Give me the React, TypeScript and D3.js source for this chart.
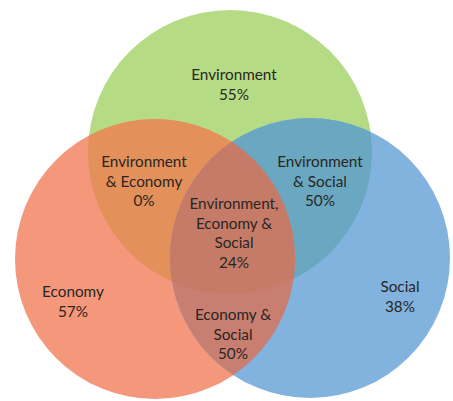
import React from "react";
import * as d3 from "d3";

// ---- data ----
const setNames = ["Environment", "Economy", "Social"];
const setValues = [55, 57, 38];
const pairLines = [
  ["Environment", "& Economy"],
  ["Environment", "& Social"],
  ["Economy &", "Social"],
];
const pairValues = [0, 50, 50];
const tripleLines = ["Environment,", "Economy &", "Social"];
const tripleValue = 24;

// ---- layout ----
const W = 453;
const H = 401;
const circles = [
  { cx: 230, cy: 152, r: 142 }, // Environment
  { cx: 155, cy: 259, r: 140 }, // Economy
  { cx: 310, cy: 258, r: 140 }, // Social
];
const setColors = ["#b5dc84", "#f4977b", "#81b3de"];
const pairColors = ["#e4905a", "#6aa7c1", "#c87e71"]; // E&Ec, E&S, Ec&S
const tripleColor = "#c67b69";

const setLabelPos = [
  { x: 234, y: 80 },
  { x: 73, y: 297 },
  { x: 400, y: 292 },
];
const pairLabelPos = [
  { x: 144, y: 167 },
  { x: 320, y: 167 },
  { x: 233, y: 320 },
];
const tripleLabelPos = { x: 234, y: 209 };
const lineH = 19.6;

const fmt = d3.format("d");

function Label({ x, y, lines, color }: { x: number; y: number; lines: string[]; color: string }) {
  return (
    <text
      x={x}
      y={y}
      textAnchor="middle"
      fontFamily="Lato, 'Open Sans', sans-serif"
      fontSize={15.3}
      fill={color}
    >
      {lines.map((l, i) => (
        <tspan key={i} x={x} y={y + i * lineH}>
          {l}
        </tspan>
      ))}
    </text>
  );
}

export default function App() {
  const pairs: [number, number][] = [
    [0, 1],
    [0, 2],
    [1, 2],
  ];
  return (
    <svg
      width={W}
      height={H}
      style={{ position: "absolute", left: 0, top: 0, background: "#fff" }}
    >
      <defs>
        {circles.map((c, i) => (
          <clipPath id={`clip${i}`} key={i}>
            <circle cx={c.cx} cy={c.cy} r={c.r} />
          </clipPath>
        ))}
        <clipPath id="clip01" clipPath="url(#clip0)">
          <circle cx={circles[1].cx} cy={circles[1].cy} r={circles[1].r} />
        </clipPath>
      </defs>
      {circles.map((c, i) => (
        <circle key={i} cx={c.cx} cy={c.cy} r={c.r} fill={setColors[i]} />
      ))}
      {pairs.map(([a, b], i) => (
        <g key={i} clipPath={`url(#clip${a})`}>
          <circle cx={circles[b].cx} cy={circles[b].cy} r={circles[b].r} fill={pairColors[i]} />
        </g>
      ))}
      <g clipPath="url(#clip01)">
        <circle cx={circles[2].cx} cy={circles[2].cy} r={circles[2].r} fill={tripleColor} />
      </g>
      {setNames.map((n, i) => (
        <Label
          key={n}
          x={setLabelPos[i].x}
          y={setLabelPos[i].y}
          lines={[n, `${fmt(setValues[i])}%`]}
          color="#2a2622"
        />
      ))}
      {pairLines.map((ls, i) => (
        <Label
          key={i}
          x={pairLabelPos[i].x}
          y={pairLabelPos[i].y}
          lines={[...ls, `${fmt(pairValues[i])}%`]}
          color="#2a2622"
        />
      ))}
      <Label
        x={tripleLabelPos.x}
        y={tripleLabelPos.y}
        lines={[...tripleLines, `${fmt(tripleValue)}%`]}
        color="#2a2622"
      />
    </svg>
  );
}
